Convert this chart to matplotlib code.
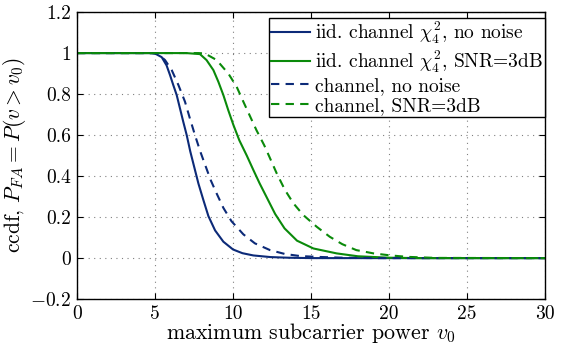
import matplotlib
matplotlib.use("Agg")
import matplotlib.pyplot as plt

# values
x_iid_nn = [0, 4.6, 5.0, 5.43, 5.74, 5.96, 6.17, 6.39, 6.6, 6.81, 7.03, 7.26, 7.56, 7.78, 8.1, 8.42,
            8.85, 9.38, 10.0, 10.6, 11.3, 12.4, 13.5, 15, 30]
y_iid_nn = [1, 1, 0.998, 0.98, 0.94, 0.893, 0.844, 0.795, 0.73, 0.665, 0.6, 0.52, 0.43, 0.364, 0.283, 0.205,
            0.135, 0.08, 0.042, 0.024, 0.013, 0.005, 0.002, 0.0, 0]

x_iid_snr = [0, 7.0, 7.88, 8.3, 8.74, 9.06, 9.38, 9.7, 10.02, 10.4, 10.88, 11.3, 11.7, 12.2, 12.7,
             13.3, 14.1, 15.15, 16.64, 18.0, 20.0, 22, 30]
y_iid_snr = [1, 1, 0.995, 0.966, 0.917, 0.86, 0.795, 0.72, 0.65, 0.575, 0.5, 0.43, 0.365, 0.29, 0.215,
             0.145, 0.085, 0.047, 0.023, 0.009, 0.002, 0.0, 0]

x_ch_nn = [0, 4.8, 5.2, 5.64, 6.07, 6.5, 6.92, 7.24, 7.56, 7.9, 8.21, 8.57, 8.95, 9.38, 9.9, 10.66,
           11.4, 12.37, 13.33, 14.3, 15.4, 17, 19, 30]
y_ch_nn = [1, 1, 0.995, 0.966, 0.917, 0.844, 0.763, 0.68, 0.6, 0.52, 0.455, 0.38, 0.315, 0.245, 0.18, 0.116,
           0.072, 0.039, 0.02, 0.01, 0.006, 0.002, 0.0, 0]

x_ch_snr = [0, 7.8, 8.2, 8.95, 9.7, 10.23, 10.66, 11.1, 11.5, 12.0, 12.33, 12.8, 13.33, 13.87, 14.5,
            15.36, 16.2, 17.0, 17.9, 19.0, 20.1, 21.2, 23, 30]
y_ch_snr = [1, 1, 0.998, 0.966, 0.9, 0.836, 0.763, 0.69, 0.624, 0.55, 0.494, 0.413, 0.332, 0.267, 0.21,
            0.153, 0.104, 0.068, 0.039, 0.023, 0.013, 0.006, 0.001, 0]

labels = [r"iid. channel $\chi^2_4$, no noise",
          r"iid. channel $\chi^2_4$, SNR=3dB",
          "channel, no noise",
          "channel, SNR=3dB"]

xticks = [0, 5, 10, 15, 20, 25, 30]
yticks = [-0.2, 0, 0.2, 0.4, 0.6, 0.8, 1, 1.2]
ytick_labels = [r"$-0.2$", "0", "0.2", "0.4", "0.6", "0.8", "1", "1.2"]

blue = "#0c2a78"
green = "#0a8a0a"

plt.rcParams["font.family"] = "serif"
plt.rcParams["font.serif"] = ["cmr10", "DejaVu Serif"]
plt.rcParams["mathtext.fontset"] = "cm"
plt.rcParams["axes.unicode_minus"] = False

fig = plt.figure(figsize=(5.62, 3.45), dpi=100)
ax = fig.add_axes([0.137, 0.133, 0.833, 0.832])

ax.plot(x_iid_nn, y_iid_nn, "-", color=blue, lw=1.5, label=labels[0])
ax.plot(x_iid_snr, y_iid_snr, "-", color=green, lw=1.5, label=labels[1])
ax.plot(x_ch_nn, y_ch_nn, "--", color=blue, lw=1.5, dashes=(4, 3), label=labels[2])
ax.plot(x_ch_snr, y_ch_snr, "--", color=green, lw=1.5, dashes=(4, 3), label=labels[3])

ax.set_xlim(0, 30)
ax.set_ylim(-0.2, 1.2)
ax.set_xticks(xticks)
ax.set_xticklabels([str(t) for t in xticks])
ax.set_yticks(yticks)
ax.set_yticklabels(ytick_labels)
ax.tick_params(direction="in", top=True, right=True, labelsize=14, length=4, pad=4)
ax.grid(True, linestyle=(0, (1, 4)), color="#808080", lw=0.8)
for s in ax.spines.values():
    s.set_linewidth(1.0)

ax.set_xlabel(r"maximum subcarrier power $v_0$", fontsize=15.8, labelpad=-1)
ax.set_ylabel(r"ccdf, $P_{FA} = P(v > v_0)$", fontsize=15.5, labelpad=2)

leg = ax.legend(loc="upper right", bbox_to_anchor=(1.0, 0.979), fontsize=14,
                handlelength=2.05, handletextpad=0.25, labelspacing=0.12, borderpad=0.1,
                borderaxespad=0, fancybox=False, framealpha=1)
leg.get_frame().set_edgecolor("black")
leg.get_frame().set_linewidth(1.0)

fig.savefig("out.png", dpi=100)
